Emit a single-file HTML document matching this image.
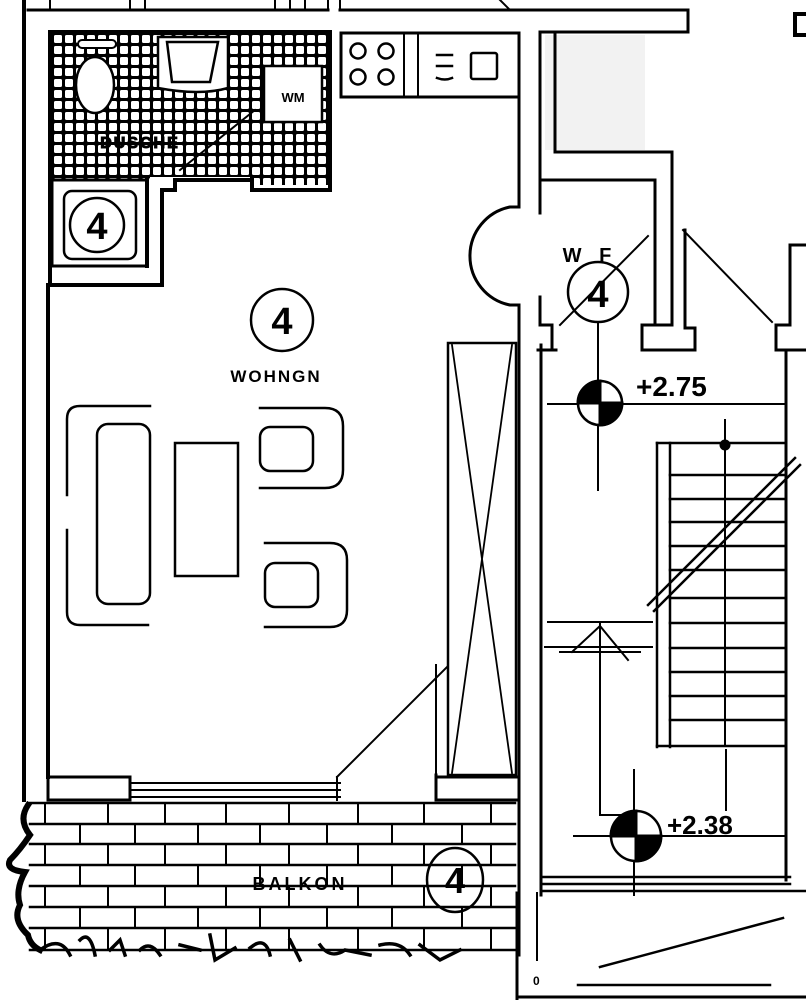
<!DOCTYPE html>
<html><head><meta charset="utf-8"><style>
html,body{margin:0;padding:0;background:#fff;}
svg{display:block;}
text{font-family:"Liberation Sans",sans-serif;font-weight:bold;fill:#000;}
</style></head><body>
<svg width="806" height="1000" viewBox="0 0 806 1000" xmlns="http://www.w3.org/2000/svg">
<defs>
<pattern id="tile" x="52" y="33" width="11" height="11" patternUnits="userSpaceOnUse">
<rect width="11" height="11" fill="#000"/><rect x="2" y="2" width="8" height="8" rx="1.5" fill="#fff"/>
</pattern>
</defs>
<g fill="none" stroke="#000" stroke-width="3" stroke-linecap="square">
<line x1="28" y1="10" x2="328" y2="10"/>
<line x1="340" y1="10" x2="688" y2="10"/>
<line x1="688" y1="10" x2="688" y2="32"/>
<line x1="540" y1="32" x2="688" y2="32"/>
<g stroke-width="2"><line x1="50" y1="0" x2="50" y2="10"/><line x1="130" y1="0" x2="130" y2="10"/><line x1="145" y1="0" x2="145" y2="10"/><line x1="275" y1="0" x2="275" y2="10"/><line x1="290" y1="0" x2="290" y2="10"/><line x1="305" y1="0" x2="305" y2="10"/><line x1="328" y1="0" x2="328" y2="10"/><line x1="340" y1="0" x2="340" y2="10"/><line x1="500" y1="0" x2="510" y2="10"/></g>
<path d="M795 14 L806 14 M795 14 L795 35 L806 35" stroke-width="4"/>
<line x1="24" y1="0" x2="24" y2="800" stroke-width="4"/>
<line x1="48" y1="285" x2="48" y2="777" stroke-width="4"/>
<rect x="50" y="32" width="280" height="145" fill="url(#tile)" stroke="none"/>
<rect x="50" y="175" width="100" height="10" fill="url(#tile)" stroke="none"/>
<rect x="250" y="175" width="80" height="10" fill="url(#tile)" stroke="none"/>
<path d="M50 32 L330 32 L330 190 L252 190 L252 180 L175 180 L175 190 L162 190 L162 285 L50 285 Z" stroke-width="4"/>
<line x1="50" y1="32" x2="50" y2="285" stroke-width="4"/>
<rect x="52" y="180" width="95" height="86" fill="#fff" stroke-width="3"/>
<line x1="147" y1="180" x2="147" y2="266" stroke-width="4"/>
<rect x="64" y="191" width="72" height="68" rx="8" stroke-width="2.5"/>
<circle cx="97" cy="225" r="27" stroke-width="2.5"/>
<ellipse cx="95" cy="85" rx="19" ry="28" fill="#fff" stroke-width="2.5"/>
<rect x="78" y="40" width="38" height="8" rx="4" fill="#fff" stroke-width="2"/>
<path d="M158 37 L228 37 L228 88 Q200 96 158 88 Z" fill="#fff" stroke-width="2.5"/>
<path d="M167 42 L218 42 L210 82 L172 82 Z" stroke-width="2.5"/>
<rect x="264" y="66" width="58" height="56" fill="#fff" stroke-width="2.5"/>
<line x1="180" y1="170" x2="255" y2="110" stroke-width="2"/>
<rect x="341" y="33" width="178" height="64" stroke-width="3"/>
<line x1="404" y1="33" x2="404" y2="97" stroke-width="2"/>
<line x1="418" y1="33" x2="418" y2="97" stroke-width="2"/>
<g stroke-width="2.5"><circle cx="358" cy="51" r="7.5"/><circle cx="386" cy="51" r="7.5"/><circle cx="358" cy="77" r="7.5"/><circle cx="386" cy="77" r="7.5"/></g>
<rect x="471" y="53" width="26" height="26" rx="2" stroke-width="2.5"/>
<path d="M437 55 L452 55 M437 66 L452 66 M437 78 Q445 81 452 78" stroke-width="2.5"/>
<line x1="519" y1="33" x2="519" y2="207" stroke-width="3"/>
<path d="M540 32 L540 205" stroke-width="3"/>
<path d="M519 207 L510 207 A50 50 0 0 0 510 305 L519 305" stroke-width="3"/>
<path d="M540 205 L540 213 M540 297 L540 325 L552 325 L552 350" stroke-width="3"/>
<line x1="519" y1="305" x2="519" y2="800" stroke-width="3"/>
<line x1="541" y1="345" x2="541" y2="895" stroke-width="3"/>
<line x1="538" y1="350" x2="556" y2="350" stroke-width="3"/>
<rect x="545" y="35" width="100" height="115" fill="#f2f2f2" stroke="none"/>
<path d="M555 32 L555 152 L672 152 L672 325" stroke-width="3"/>
<path d="M540 180 L655 180 L655 325" stroke-width="3"/>
<path d="M642 325 L642 350 L695 350 L695 328 L685 328 L685 230" stroke-width="3"/>
<line x1="642" y1="325" x2="672" y2="325" stroke-width="3"/>
<line x1="560" y1="325" x2="648" y2="236" stroke-width="2"/>
<line x1="683" y1="230" x2="772" y2="322" stroke-width="2"/>
<path d="M806 245 L790 245 L790 325 L776 325 L776 350 L806 350" stroke-width="3"/>
<line x1="786" y1="350" x2="786" y2="880" stroke-width="3"/>
<circle cx="598" cy="292" r="30" stroke-width="2.5"/>
<line x1="598" y1="322" x2="598" y2="490" stroke-width="2"/>
<line x1="548" y1="404" x2="786" y2="404" stroke-width="2"/>
<circle cx="600" cy="403" r="22" fill="#fff" stroke-width="2.5"/>
<path d="M600 381 A22 22 0 0 0 578 403 L600 403 Z" fill="#000"/>
<path d="M600 403 L622 403 A22 22 0 0 1 600 425 Z" fill="#000"/>
<line x1="600" y1="381" x2="600" y2="425" stroke-width="2"/>
<line x1="657" y1="443" x2="657" y2="747" stroke-width="2.5"/>
<line x1="670" y1="443" x2="670" y2="747" stroke-width="2.5"/>
<line x1="657" y1="443" x2="786" y2="443" stroke-width="2.5"/>
<line x1="657" y1="746" x2="786" y2="746" stroke-width="2.5"/>
<g stroke-width="2.5">
<line x1="670" y1="475" x2="786" y2="475"/><line x1="670" y1="499" x2="786" y2="499"/><line x1="670" y1="522" x2="786" y2="522"/><line x1="670" y1="546" x2="786" y2="546"/><line x1="670" y1="570" x2="786" y2="570"/><line x1="670" y1="598" x2="786" y2="598"/><line x1="670" y1="623" x2="786" y2="623"/><line x1="670" y1="648" x2="786" y2="648"/><line x1="670" y1="672" x2="786" y2="672"/><line x1="670" y1="696" x2="786" y2="696"/><line x1="670" y1="720" x2="786" y2="720"/>
</g>
<line x1="725" y1="420" x2="725" y2="745" stroke-width="2"/>
<circle cx="725" cy="445" r="4" fill="#000"/>
<path d="M648 605 L795 458 M654 611 L800 465" stroke-width="2.5"/>
<line x1="548" y1="622" x2="652" y2="622" stroke-width="2"/>
<line x1="545" y1="647" x2="652" y2="647" stroke-width="2"/>
<path d="M600 622 L600 815 L640 815" stroke-width="2"/>
<path d="M572 652 L600 626 L628 660" stroke-width="2"/>
<line x1="560" y1="652" x2="640" y2="652" stroke-width="2"/>
<line x1="634" y1="770" x2="634" y2="895" stroke-width="2"/>
<line x1="726" y1="750" x2="726" y2="810" stroke-width="2"/>
<line x1="574" y1="836" x2="786" y2="836" stroke-width="2"/>
<circle cx="636" cy="836" r="25" fill="#fff" stroke-width="2.5"/>
<path d="M636 811 A25 25 0 0 0 611 836 L636 836 Z" fill="#000"/>
<path d="M636 836 L661 836 A25 25 0 0 1 636 861 Z" fill="#000"/>
<line x1="636" y1="811" x2="636" y2="861" stroke-width="2"/>
<line x1="541" y1="877" x2="790" y2="877" stroke-width="2.5"/>
<line x1="541" y1="884" x2="790" y2="884" stroke-width="2.5"/>
<line x1="541" y1="891" x2="806" y2="891" stroke-width="2.5"/>
<line x1="517" y1="893" x2="517" y2="1000" stroke-width="3"/>
<line x1="537" y1="893" x2="537" y2="960" stroke-width="2"/>
<line x1="517" y1="997" x2="806" y2="997" stroke-width="3"/>
<line x1="600" y1="967" x2="783" y2="918" stroke-width="2.5"/>
<line x1="578" y1="985" x2="770" y2="985" stroke-width="2.5"/>
<g stroke-width="2.5">
<path d="M150 406 L80 406 Q67 406 67 419 L67 495 M67 530 L67 612 Q67 625 80 625 L148 625"/>
<rect x="97" y="424" width="53" height="180" rx="11"/>
<rect x="175" y="443" width="63" height="133"/>
<path d="M260 408 L325 408 Q343 408 343 426 L343 470 Q343 488 325 488 L260 488"/>
<rect x="260" y="427" width="53" height="44" rx="10"/>
<path d="M265 543 L330 543 Q347 543 347 560 L347 610 Q347 627 330 627 L265 627"/>
<rect x="265" y="563" width="53" height="44" rx="10"/>
</g>
<circle cx="282" cy="320" r="31" stroke-width="2.5"/>
<rect x="448" y="343" width="68" height="432" stroke-width="2.5"/>
<path d="M452 345 L512 773 M512 345 L452 773" stroke-width="1.8"/>
<line x1="436" y1="665" x2="436" y2="775" stroke-width="2"/>
<line x1="337" y1="777" x2="447" y2="667" stroke-width="2"/>
<line x1="48" y1="777" x2="130" y2="777" stroke-width="3"/>
<path d="M48 777 L48 800 L130 800 L130 777" stroke-width="3"/>
<line x1="130" y1="783" x2="340" y2="783" stroke-width="2"/>
<line x1="130" y1="790" x2="340" y2="790" stroke-width="2"/>
<line x1="130" y1="797" x2="340" y2="797" stroke-width="2"/>
<line x1="337" y1="777" x2="337" y2="800" stroke-width="2"/>
<path d="M436 775 L436 800 L519 800" stroke-width="3"/>
<line x1="436" y1="777" x2="519" y2="777" stroke-width="3"/>
<line x1="519" y1="800" x2="519" y2="955" stroke-width="3"/>
<g stroke-width="2.5">
<line x1="30" y1="803" x2="515" y2="803"/><line x1="30" y1="824" x2="515" y2="824"/><line x1="30" y1="844" x2="515" y2="844"/><line x1="30" y1="865" x2="515" y2="865"/><line x1="30" y1="886" x2="515" y2="886"/><line x1="30" y1="907" x2="515" y2="907"/><line x1="30" y1="928" x2="515" y2="928"/><line x1="30" y1="950" x2="515" y2="950"/>
</g>
<g stroke-width="2">
<path d="M45 803V824M108 803V824M165 803V824M226 803V824M289 803V824M358 803V824M424 803V824M491 803V824"/>
<path d="M80 824V844M135 824V844M198 824V844M260 824V844M327 824V844M392 824V844M462 824V844"/>
<path d="M45 844V865M108 844V865M165 844V865M226 844V865M289 844V865M358 844V865M424 844V865M491 844V865"/>
<path d="M80 865V886M135 865V886M198 865V886M260 865V886M327 865V886M392 865V886M462 865V886"/>
<path d="M45 886V907M108 886V907M165 886V907M226 886V907M289 886V907M358 886V907M424 886V907M491 886V907"/>
<path d="M80 907V928M135 907V928M198 907V928M260 907V928M327 907V928M392 907V928M462 907V928"/>
<path d="M45 928V950M108 928V950M165 928V950M226 928V950M289 928V950M358 928V950M424 928V950M491 928V950"/>
</g>
<ellipse cx="455" cy="880" rx="28" ry="32" stroke-width="2.5"/>
<path d="M28 805 Q18 820 30 835 Q20 850 10 860 Q5 870 25 872 Q15 890 20 905 Q12 920 28 935 Q30 945 40 950" stroke-width="6"/>
<path d="M40 950 Q60 935 70 955 M80 940 Q90 930 95 955 M110 950 L120 940 L125 955 M140 950 Q150 940 160 955 M180 945 L200 950 M210 935 L215 960 L235 948 M250 948 Q265 935 270 955 M290 940 L300 960 M320 945 Q330 960 345 950 L370 955 M380 945 Q400 940 410 955 M420 945 L440 960 L460 950" stroke-width="3.5"/>
</g>
<text x="590" y="262" font-size="20" text-anchor="middle" letter-spacing="6">W F</text>
<text x="598" y="307" font-size="38" text-anchor="middle" font-weight="normal">4</text>
<text x="282" y="334" font-size="38" text-anchor="middle" font-weight="normal">4</text>
<text x="97" y="239" font-size="38" text-anchor="middle" font-weight="normal">4</text>
<text x="455" y="893" font-size="36" text-anchor="middle" font-weight="normal">4</text>
<text x="276" y="382" font-size="17" text-anchor="middle" letter-spacing="2">WOHNGN</text>
<text x="293" y="102" font-size="13" text-anchor="middle">WM</text>
<text x="140" y="148" font-size="16" text-anchor="middle" letter-spacing="2" fill="#000" stroke="#000" stroke-width="1">DUSCHE</text>
<text x="300" y="890" font-size="18" text-anchor="middle" letter-spacing="3">BALKON</text>
<text x="636" y="396" font-size="28" font-weight="normal">+2.75</text>
<text x="667" y="834" font-size="26" font-weight="normal">+2.38</text>
<text x="533" y="985" font-size="12">0</text>
</svg>
</body></html>
